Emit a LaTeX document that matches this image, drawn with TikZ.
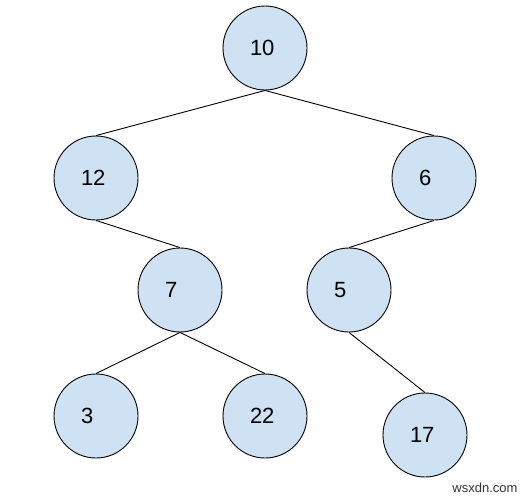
\documentclass[tikz,border=0pt]{standalone}
\usepackage{fontspec}
\setmainfont{Liberation Sans}
\usepackage{xcolor}
\definecolor{lightBlue}{HTML}{CFE2F3}
\definecolor{markGrey}{HTML}{333333}
\usepackage{tikz}
\tikzset{vertex/.style = {circle, draw = black, line width = 0.9pt, fill = lightBlue,
		minimum size = 84pt, inner sep = 0pt, text width = 30pt, align = left,
		font = \fontsize{22}{26}\selectfont}}
\tikzset{edge/.style = {line width = 0.9pt}}

\begin{document}
\begin{tikzpicture}[x = 1pt, y = -1pt]
	\useasboundingbox (0, 0) rectangle (527, 499);

	%% Level 0
	\node[vertex] (ten) at (265, 48) {10};

	%% Level 1
	\node[vertex] (twelve) at (96, 178) {12};
	\node[vertex] (six) at (434, 178) {6};

	%% Level 2
	\node[vertex] (seven) at (180, 290) {7};
	\node[vertex] (five) at (349, 290) {5};

	%% Level 3
	\node[vertex] (three) at (96, 416) {3};
	\node[vertex] (twentytwo) at (265, 416) {22};
	\node[vertex] (seventeen) at (425, 435) {17};

	%% Edges
	\draw[edge] (ten.south) -- (twelve.north);
	\draw[edge] (ten.south) -- (six.north);
	\draw[edge] (twelve.south) -- (seven.north);
	\draw[edge] (six.south) -- (five.north);
	\draw[edge] (seven.south) -- (three.north);
	\draw[edge] (seven.south) -- (twentytwo.north);
	\draw[edge] (five.south) -- (seventeen.north);

	% watermark
	\node[text = markGrey, font = \fontsize{13}{15}\selectfont] (mark) at (485, 488) {wsxdn.com};
\end{tikzpicture}
\end{document}
